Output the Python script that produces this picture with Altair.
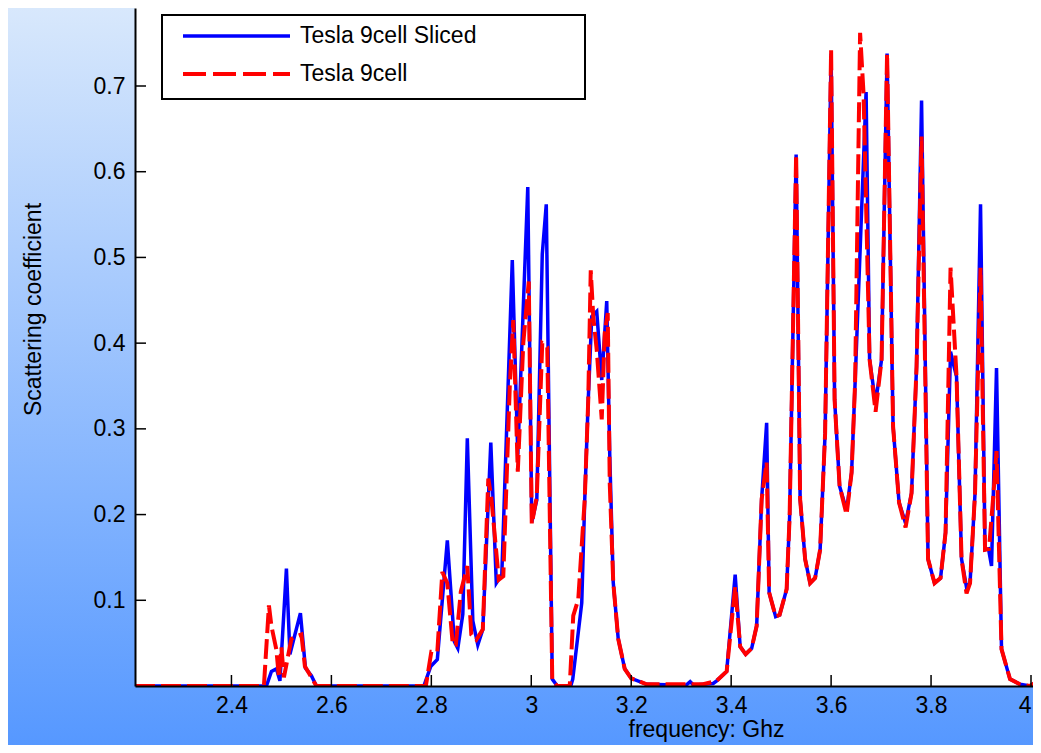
import altair as alt
import pandas as pd

# ---------------- data ----------------
series_names = ["Tesla 9cell Sliced", "Tesla 9cell"]

freq_sliced = [2.207, 2.47, 2.48, 2.49, 2.497, 2.51, 2.517, 2.538, 2.548, 2.56, 2.57,
               2.785, 2.799, 2.812, 2.832, 2.846, 2.853, 2.863, 2.872, 2.883, 2.893,
               2.903, 2.919, 2.930, 2.941, 2.962, 2.973, 2.993, 3.001, 3.011, 3.022,
               3.030, 3.042, 3.052, 3.079, 3.083, 3.101, 3.107, 3.114, 3.121, 3.131,
               3.141, 3.151, 3.157, 3.164, 3.174, 3.187, 3.200, 3.231, 3.31, 3.318,
               3.325, 3.344, 3.364, 3.371, 3.391, 3.408, 3.418, 3.429, 3.441, 3.451,
               3.461, 3.471, 3.476, 3.489, 3.497, 3.511, 3.517, 3.530, 3.538, 3.548,
               3.558, 3.568, 3.578, 3.588, 3.600, 3.607, 3.617, 3.631, 3.641, 3.648,
               3.670, 3.677, 3.689, 3.701, 3.712, 3.724, 3.736, 3.749, 3.761, 3.771,
               3.781, 3.794, 3.807, 3.819, 3.829, 3.839, 3.845, 3.851, 3.861, 3.871,
               3.878, 3.888, 3.899, 3.908, 3.915, 3.921, 3.931, 3.941, 3.958, 3.978,
               3.998, 4.02]
val_sliced = [0.0, 0.0, 0.017, 0.02, 0.006, 0.137, 0.037, 0.085, 0.021, 0.012, 0.0,
              0.0, 0.023, 0.031, 0.170, 0.052, 0.044, 0.084, 0.289, 0.076, 0.048,
              0.066, 0.284, 0.120, 0.130, 0.497, 0.27, 0.582, 0.191, 0.217, 0.504,
              0.562, 0.008, 0.0, 0.0, 0.008, 0.097, 0.218, 0.334, 0.431, 0.437,
              0.357, 0.449, 0.27, 0.121, 0.055, 0.02, 0.009, 0.002, 0.001, 0.005,
              0.001, 0.002, 0.003, 0.006, 0.017, 0.130, 0.046, 0.037, 0.044, 0.070,
              0.218, 0.307, 0.109, 0.081, 0.083, 0.113, 0.198, 0.620, 0.218, 0.148,
              0.120, 0.126, 0.159, 0.295, 0.738, 0.334, 0.233, 0.205, 0.249, 0.354,
              0.693, 0.381, 0.330, 0.381, 0.738, 0.303, 0.214, 0.190, 0.225, 0.373,
              0.683, 0.148, 0.120, 0.126, 0.179, 0.39, 0.375, 0.361, 0.148, 0.115,
              0.12, 0.225, 0.562, 0.159, 0.16, 0.14, 0.371, 0.043, 0.008, 0.002,
              0.0, 0.008]

freq_full = [2.207, 2.465, 2.475, 2.48, 2.49, 2.495, 2.50, 2.505, 2.52, 2.53, 2.54,
             2.547, 2.557, 2.57, 2.789, 2.80, 2.812, 2.822, 2.832, 2.843, 2.849,
             2.859, 2.872, 2.880, 2.890, 2.903, 2.914, 2.920, 2.935, 2.944, 2.957,
             2.964, 2.973, 2.984, 2.995, 3.001, 3.011, 3.022, 3.032, 3.042, 3.052,
             3.077, 3.084, 3.094, 3.107, 3.114, 3.119, 3.124, 3.131, 3.141, 3.147,
             3.153, 3.157, 3.164, 3.174, 3.187, 3.200, 3.231, 3.344, 3.371, 3.391,
             3.408, 3.418, 3.429, 3.441, 3.451, 3.461, 3.471, 3.476, 3.489, 3.497,
             3.511, 3.517, 3.530, 3.538, 3.548, 3.558, 3.568, 3.578, 3.588, 3.600,
             3.607, 3.617, 3.631, 3.641, 3.648, 3.658, 3.665, 3.677, 3.689, 3.701,
             3.712, 3.724, 3.736, 3.749, 3.761, 3.771, 3.781, 3.794, 3.807, 3.819,
             3.829, 3.839, 3.851, 3.861, 3.871, 3.878, 3.888, 3.899, 3.908, 3.916,
             3.925, 3.931, 3.941, 3.958, 3.978, 3.998, 4.02]
val_full = [0.0, 0.0, 0.094, 0.07, 0.042, 0.01, 0.045, 0.01, 0.055, 0.058, 0.06,
            0.023, 0.013, 0.0, 0.0, 0.04, 0.04, 0.133, 0.12, 0.048, 0.048,
            0.110, 0.14, 0.06, 0.054, 0.066, 0.242, 0.22, 0.124, 0.128, 0.35,
            0.427, 0.25, 0.40, 0.472, 0.189, 0.221, 0.40, 0.395, 0.007, 0.0,
            0.0, 0.082, 0.101, 0.218, 0.334, 0.485, 0.431, 0.392, 0.311, 0.412,
            0.435, 0.237, 0.121, 0.055, 0.02, 0.009, 0.002, 0.002, 0.006, 0.017,
            0.116, 0.046, 0.037, 0.044, 0.070, 0.218, 0.261, 0.109, 0.081, 0.083,
            0.113, 0.198, 0.620, 0.218, 0.148, 0.120, 0.126, 0.159, 0.295, 0.742,
            0.334, 0.233, 0.200, 0.249, 0.354, 0.762, 0.69, 0.381, 0.320, 0.381,
            0.738, 0.303, 0.214, 0.185, 0.225, 0.373, 0.641, 0.148, 0.120, 0.126,
            0.179, 0.488, 0.361, 0.148, 0.108, 0.12, 0.225, 0.488, 0.159, 0.16,
            0.225, 0.274, 0.043, 0.008, 0.002, 0.0, 0.008]

x_tick_values = [2.4, 2.6, 2.8, 3.0, 3.2, 3.4, 3.6, 3.8, 4.0]
y_tick_values = [0.1, 0.2, 0.3, 0.4, 0.5, 0.6, 0.7]

x_title = "frequency: Ghz"
y_title = "Scattering coefficient"

# ---------------- layout constants ----------------
W, H = 898, 678
PAD_L, PAD_B = 127, 59
FONT = "Liberation Sans"

xs = alt.Scale(domain=[2.207, 4.004], nice=False, zero=False)
ys = alt.Scale(domain=[0.0, 0.791], nice=False, zero=False)

df_s = pd.DataFrame({"f": freq_sliced, "v": val_sliced})
df_f = pd.DataFrame({"f": freq_full, "v": val_full})
one = pd.DataFrame({"a": [0]})

grad = alt.Gradient(
    gradient="linear",
    stops=[alt.GradientStop(color="#d8e8fc", offset=0),
           alt.GradientStop(color="#5698ff", offset=1)],
    x1=0, x2=0, y1=0, y2=1,
)

x_axis = alt.Axis(
    values=x_tick_values, format="~g", ticks=False, grid=False,
    domainColor="black", domainWidth=2, labelFontSize=23, labelColor="black",
    labelPadding=8, labelFont=FONT, labelFlush=False, labelOverlap=False,
    labelAlign={"condition": {"test": "datum.value >= 3.99", "value": "right"},
                "value": "center"},
    title=x_title, titleFontSize=23, titleFontWeight="normal", titleColor="black",
    titleFont=FONT, titleX=571, titleY=43, titleAlign="center", titleBaseline="middle",
    zindex=1,
)
y_axis = alt.Axis(
    values=y_tick_values, format=".1f", ticks=False, grid=False,
    domainColor="black", domainWidth=2, labelFontSize=23, labelColor="black",
    labelPadding=10, labelFont=FONT,
    title=y_title, titleFontSize=23, titleFontWeight="normal", titleColor="black",
    titleFont=FONT, titleX=-102, titleY=301, titleAlign="center", titleBaseline="middle",
    zindex=1,
)


def X(field):
    return alt.X(field, type="quantitative", scale=xs, axis=x_axis)


def Y(field):
    return alt.Y(field, type="quantitative", scale=ys, axis=y_axis)


bg = alt.Chart(one).mark_rect(clip=False, color=grad).encode(
    x=alt.value(-PAD_L), x2=alt.value(W + 2), y=alt.value(0), y2=alt.value(H + PAD_B)
)
plot_bg = alt.Chart(one).mark_rect(color="white").encode(
    x=alt.value(0), x2=alt.value(W), y=alt.value(0), y2=alt.value(H)
)

blue = alt.Chart(df_s).mark_line(color="#0000ff", strokeWidth=3.5, clip=True).encode(
    x=X("f"), y=Y("v")
)
red = alt.Chart(df_f).mark_line(color="#ff0000", strokeWidth=4, strokeDash=[20, 6],
                                clip=True).encode(
    x=X("f"), y=Y("v")
)

yticks = alt.Chart(pd.DataFrame({"t": y_tick_values})).mark_rule(
    color="black", strokeWidth=1.5).encode(
    y=Y("t"), x=alt.value(0), x2=alt.value(11)
)
xticks = alt.Chart(pd.DataFrame({"t": x_tick_values})).mark_rule(
    color="black", strokeWidth=1.5).encode(
    x=X("t"), y=alt.value(H - 11), y2=alt.value(H)
)

# legend box (upper left inside the plot)
leg_box = alt.Chart(one).mark_rect(fill="white", stroke="black", strokeWidth=2).encode(
    x=alt.value(27), x2=alt.value(450), y=alt.value(7), y2=alt.value(91)
)
leg_blue = alt.Chart(one).mark_rule(color="#0000ff", strokeWidth=3.5).encode(
    x=alt.value(48), x2=alt.value(155), y=alt.value(28)
)
leg_red = alt.Chart(one).mark_rule(color="#ff0000", strokeWidth=4, strokeDash=[23, 7]).encode(
    x=alt.value(48), x2=alt.value(155), y=alt.value(66)
)
leg_t1 = alt.Chart(one).mark_text(align="left", baseline="middle", fontSize=23,
                                  font=FONT, color="black").encode(
    x=alt.value(165), y=alt.value(28), text=alt.value(series_names[0])
)
leg_t2 = alt.Chart(one).mark_text(align="left", baseline="middle", fontSize=23,
                                  font=FONT, color="black").encode(
    x=alt.value(165), y=alt.value(66), text=alt.value(series_names[1])
)

chart = alt.layer(
    bg, plot_bg, blue, red, yticks, xticks, leg_box, leg_blue, leg_red, leg_t1, leg_t2
).properties(
    width=W, height=H,
    autosize=alt.AutoSizeParams(type="none"),
    padding={"left": PAD_L, "top": 0, "right": 0, "bottom": PAD_B},
).configure_view(stroke=None).configure(font=FONT)

chart.save("out.html", embed_options={"renderer": "svg", "actions": False})
